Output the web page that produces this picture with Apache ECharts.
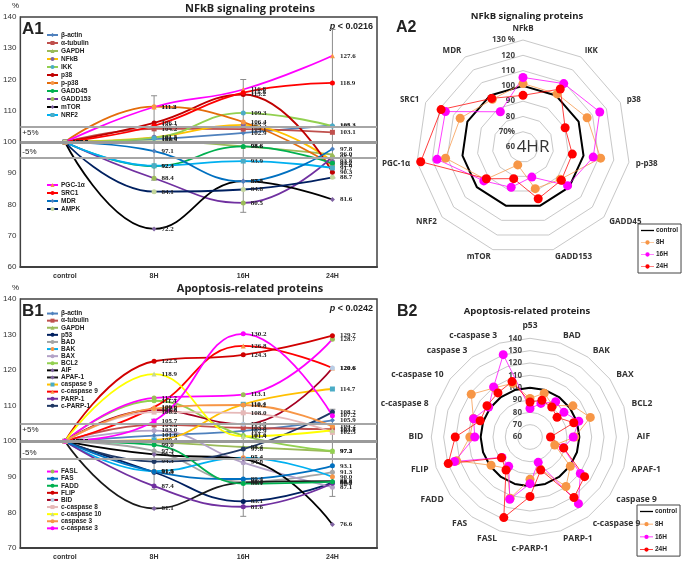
<!DOCTYPE html>
<html><head><meta charset="utf-8">
<script src="https://cdn.jsdelivr.net/npm/echarts@6/dist/echarts.min.js"></script>
<style>html,body{margin:0;padding:0;background:#fff}#c{width:685px;height:563px}</style>
</head><body><div id="c"></div>
<script>
// ---------- DATA ----------
const timepoints = ['control', '8H', '16H', '24H'];

const nfkbProteins = ['β-actin','α-tubulin','GAPDH','NFkB','IKK','p38','p-p38','GADD45','GADD153','mTOR','NRF2','PGC-1α','SRC1','MDR','AMPK'];
const nfkbControl = [100.0,100.0,100.0,100.0,100.0,100.0,100.0,100.0,100.0,100.0,100.0,100.0,100.0,100.0,100.0];
const nfkb8H  = [100.9,104.2,100.2,101.5,101.3,106.1,111.3, 92.3, 88.4, 72.2, 92.4,111.2,105.2, 97.1, 84.1];
const nfkb16H = [102.9,104.1, 98.6,105.5,109.3,115.2,106.4, 98.6, 80.5, 87.5, 93.9,116.8,115.8, 87.4, 84.8];
const nfkb24H = [105.3,103.1, 96.0, 93.8,105.1, 90.3, 92.6, 93.2, 95.3, 81.6, 91.7,127.6,118.9, 97.8, 88.7];
const nfkbErrLow  = [87.8, 77.5, 88.5];   // 8H, 16H, 24H
const nfkbErrHigh = [114.8, 120.0, 136.0];
const nfkbRadarAxes = ['NFkB','IKK','p38','p-p38','GADD45','GADD153','mTOR','NRF2','PGC-1α','SRC1','MDR'];
const nfkbLegend1 = ['β-actin','α-tubulin','GAPDH','NFkB','IKK','p38','p-p38','GADD45','GADD153','mTOR','NRF2'];
const nfkbLegend2 = ['PGC-1α','SRC1','MDR','AMPK'];

const apoProteins = ['β-actin','α-tubulin','GAPDH','p53','BAD','BAK','BAX','BCL2','AIF','APAF-1','caspase 9','c-caspase 9','PARP-1','c-PARP-1','FASL','FAS','FADD','FLIP','BID','c-caspase 8','c-caspase 10','caspase 3','c-caspase 3'];
const apoControl = [100.0,100.0,100.0,100.0,100.0,100.0,100.0,100.0,100.0,100.0,100.0,100.0,100.0,100.0,100.0,100.0,100.0,100.0,100.0,100.0,100.0,100.0,100.0];
const apo8H  = [101.6,104.6, 99.7, 91.3, 97.3, 91.6,103.0,111.4, 96.3, 81.1,100.4,109.6, 87.4, 94.3,112.2, 91.5, 99.0,122.5,108.8,108.2,118.9,109.2,105.7];
const apo16H = [102.9,103.8, 98.4, 83.1, 88.6, 95.4, 94.0,101.6, 95.0, 88.4,110.4,126.8, 81.6, 97.8,113.1, 89.4, 88.1,124.3,104.8,108.0,101.4,110.2,130.2];
const apo24H = [105.9,103.4, 97.2, 88.4, 91.3, 90.0, 87.1, 97.3, 76.6, 88.8,114.7,120.6, 88.2,108.2,128.7, 93.1, 88.6,129.7,120.6,102.5,103.1,104.2,107.2];
const apoErrLow  = [86.5, 78.9, 84.5];
const apoErrHigh = [106.2, 110.4, 109.0];
const apoRadarAxes = ['p53','BAD','BAK','BAX','BCL2','AIF','APAF-1','caspase 9','c-caspase 9','PARP-1','c-PARP-1','FASL','FAS','FADD','FLIP','BID','c-caspase 8','c-caspase 10','caspase 3','c-caspase 3'];
const apoLegend1 = ['β-actin','α-tubulin','GAPDH','p53','BAD','BAK','BAX','BCL2','AIF','APAF-1','caspase 9','c-caspase 9','PARP-1','c-PARP-1'];
const apoLegend2 = ['FASL','FAS','FADD','FLIP','BID','c-caspase 8','c-caspase 10','caspase 3','c-caspase 3'];

const radarGroups = ['control','8H','16H','24H'];

// ---------- STYLES ----------
const lineStyles = {
  'β-actin':['#4F81BD','diamond','#4F81BD'], 'α-tubulin':['#C0504D','rect','#C0504D'], 'GAPDH':['#9BBB59','triangle','#9BBB59'],
  'NFkB':['#FFC000','circle','#8064A2'], 'IKK':['#92D050','circle','#4BACC6'], 'p38':['#C00000','circle','#C00000'],
  'p-p38':['#E46C0A','circle','#F79646'], 'GADD45':['#00B050','circle','#00B050'], 'GADD153':['#7030A0','circle','#9BBB59'],
  'mTOR':['#000000','diamond','#8064A2'], 'NRF2':['#00B0F0','rect','#4BACC6'], 'PGC-1α':['#FF00FF','triangle','#F79646'],
  'SRC1':['#FF0000','circle','#FF0000'], 'MDR':['#0070C0','diamond','#4F81BD'], 'AMPK':['#002060','circle','#C3D69B'],
  'p53':['#002060','circle','#002060'], 'BAD':['#A5A5A5','circle','#A5A5A5'], 'BAK':['#00B0F0','circle','#F79646'],
  'BAX':['#B3A2C7','circle','#B3A2C7'], 'BCL2':['#92D050','circle','#92D050'], 'AIF':['#000000','diamond','#8064A2'],
  'APAF-1':['#1A1A1A','diamond','#8064A2'], 'caspase 9':['#FFC000','rect','#4BACC6'], 'c-caspase 9':['#FF0000','triangle','#F79646'],
  'PARP-1':['#7030A0','circle','#7030A0'], 'c-PARP-1':['#1F3864','circle','#1F3864'], 'FASL':['#FF00FF','circle','#9BBB59'],
  'FAS':['#0070C0','circle','#0070C0'], 'FADD':['#00B050','circle','#00B050'], 'FLIP':['#D00000','circle','#D00000'],
  'BID':['#A50021','circle','#B9CDE5'], 'c-caspase 8':['#E6B9B8','rect','#E6B9B8'], 'c-caspase 10':['#FFFF00','triangle','#C3D69B'],
  'caspase 3':['#F79646','circle','#F79646'], 'c-caspase 3':['#FF00FF','circle','#FF00FF']
};
const radarStyles = {
  'control':{color:'#000000', width:2, symbol:'none', icon:'path://M0,4h26v2.6H0z'},
  '8H':{color:'#F79646', width:1, symbol:'circle', icon:'path://M0,4.6h26v1.4H0z M13,1a4.3,4.3 0 1,1 -0.01,0z'},
  '16H':{color:'#FF00FF', width:1, symbol:'circle', icon:'path://M0,4.6h26v1.4H0z M13,1a4.3,4.3 0 1,1 -0.01,0z'},
  '24H':{color:'#FF0000', width:1, symbol:'circle', icon:'path://M0,4.6h26v1.4H0z M13,1a4.3,4.3 0 1,1 -0.01,0z'}
};

// ---------- BUILD ----------
function buildLines(proteins, ctrl, a, b, c, xi) {
  return proteins.map((p, i) => ({
    name: p, type: 'line', xAxisIndex: xi, yAxisIndex: xi, smooth: 0.45, z: 3,
    data: [ctrl[i], a[i], b[i], c[i]],
    symbol: lineStyles[p][1], symbolSize: 5, showAllSymbol: true,
    lineStyle: { color: lineStyles[p][0], width: 1.8 },
    itemStyle: { color: lineStyles[p][2] },
    label: { show: true, position: 'right', distance: 5, fontSize: 7, fontWeight: 'bold',
             fontFamily: 'Liberation Serif', color: '#222', formatter: q => Number(q.value).toFixed(1) },
    emphasis: { disabled: true }, animation: false
  }));
}
function errSeries(lo, hi, xi) {
  return {
    type: 'custom', xAxisIndex: xi, yAxisIndex: xi, silent: true, z: 2, animation: false,
    data: lo.map((v, i) => [i + 1, v, hi[i]]),
    encode: { x: 0, y: [1, 2] },
    renderItem: (params, api) => {
      const x = api.value(0);
      const p1 = api.coord([x, api.value(1)]);
      const p2 = api.coord([x, api.value(2)]);
      const st = { stroke: '#8C8C8C', lineWidth: 1 };
      const kids = [{ type: 'line', shape: { x1: p1[0], y1: p1[1], x2: p2[0], y2: p2[1] }, style: st }];
      [p1, p2].forEach(p => kids.push({ type: 'line', shape: { x1: p[0] - 3, y1: p[1], x2: p[0] + 3, y2: p[1] }, style: st }));
      return { type: 'group', children: kids };
    }
  };
}
function bandSeries(xi) {
  return {
    type: 'line', xAxisIndex: xi, yAxisIndex: xi, data: [], silent: true, z: 1, animation: false,
    markLine: { silent: true, symbol: 'none', animation: false, data: [
      { yAxis: 105, lineStyle: { color: '#A6A6A6', width: 2, type: 'solid' }, label: { show: true, position: 'insideStartBottom', formatter: '+5%', color: '#222', fontSize: 8, distance: [2, 2] } },
      { yAxis: 100, lineStyle: { color: '#9A9A9A', width: 3, type: 'solid' }, label: { show: false } },
      { yAxis: 95, lineStyle: { color: '#A6A6A6', width: 2, type: 'solid' }, label: { show: true, position: 'insideStartTop', formatter: '-5%', color: '#222', fontSize: 8, distance: [2, 2] } }
    ] }
  };
}
function clockwise(axes) { return [axes[0]].concat(axes.slice(1).reverse()); }
function buildRadar(axes, proteins, arrays, ri) {
  const ord = clockwise(axes);
  return {
    type: 'radar', radarIndex: ri, animation: false, silent: true,
    data: radarGroups.map((g, k) => ({
      name: g,
      value: ord.map(n => arrays[k][proteins.indexOf(n)]),
      symbol: radarStyles[g].symbol, symbolSize: 9,
      lineStyle: { color: radarStyles[g].color, width: radarStyles[g].width, opacity: g === 'control' ? 1 : 0.75 },
      itemStyle: { color: radarStyles[g].color }
    }))
  };
}

const axisLabelStyle = { fontSize: 8, color: '#333', fontFamily: 'Liberation Sans' };
function xAx(gi) { return { type: 'category', gridIndex: gi, data: timepoints, boundaryGap: true,
  axisLine: { lineStyle: { color: '#404040', width: 2 } }, axisTick: { show: false },
  axisLabel: { fontSize: 7, fontWeight: 'bold', color: '#333', fontFamily: 'Liberation Sans', margin: 6 } }; }
function yAx(gi, mn) { return { type: 'value', gridIndex: gi, min: mn, max: 140, interval: 10,
  axisLine: { show: true, lineStyle: { color: '#404040', width: 1 } }, axisTick: { show: false },
  splitLine: { show: false }, axisLabel: Object.assign({ margin: 4 }, axisLabelStyle) }; }

function legendCfg(names, left, top, lh) {
  return { data: names, orient: 'vertical', left: left, top: top, itemWidth: 11, itemHeight: 5, itemGap: 0,
    padding: 0, selectedMode: false,
    textStyle: { fontSize: 6.5, lineHeight: lh, height: lh, fontWeight: 'bold', color: '#222', fontFamily: 'Liberation Sans', padding: [0, 0, 0, -2] } };
}
function radarLegend(left, top, gap) {
  return { data: radarGroups.map(g => ({ name: g, icon: radarStyles[g].icon })), orient: 'vertical', left: left, top: top,
    itemWidth: 13, itemHeight: 6, itemGap: gap,
    padding: [3, 3, 3, 3], borderColor: '#444', borderWidth: 1, selectedMode: false,
    textStyle: { fontSize: 6.5, fontWeight: 'bold', color: '#222', fontFamily: 'Liberation Sans', padding: [0, 0, 0, -3] } };
}
function txt(x, y, t, opt) { return { type: 'text', x: x, y: y, silent: true, style: Object.assign({ text: t, fill: '#222', fontFamily: 'Liberation Sans' }, opt || {}) }; }

const chart = echarts.init(document.getElementById('c'), null, { renderer: 'canvas' });
const option = {
  backgroundColor: '#fff', animation: false,
  grid: [
    { left: 17, top: 17, width: 360, height: 250, show: true, borderColor: '#404040', borderWidth: 1.5, backgroundColor: 'transparent' },
    { left: 17, top: 299, width: 360, height: 249, show: true, borderColor: '#404040', borderWidth: 1.5, backgroundColor: 'transparent' }
  ],
  xAxis: [xAx(0), xAx(1)],
  yAxis: [yAx(0, 60), yAx(1, 70)],
  radar: [
    { center: [523, 147], radius: 107, startAngle: 90, shape: 'polygon', splitNumber: 7,
      indicator: clockwise(nfkbRadarAxes).map(n => ({ name: n, min: 60, max: 130 })),
      axisName: { color: '#333', fontSize: 8, fontWeight: 'bold', fontFamily: 'Open Sans' }, nameGap: 7,
      splitArea: { show: false }, axisLine: { show: false }, splitLine: { lineStyle: { color: '#C8C8C8', width: 1 } } },
    { center: [530, 437], radius: 98.7, startAngle: 90, shape: 'polygon', splitNumber: 8,
      indicator: clockwise(apoRadarAxes).map(n => ({ name: n, min: 60, max: 140 })),
      axisName: { color: '#333', fontSize: 8.5, fontWeight: 'bold', fontFamily: 'Open Sans' }, nameGap: 8,
      splitArea: { show: false }, axisLine: { show: false }, splitLine: { lineStyle: { color: '#C8C8C8', width: 1 } } }
  ],
  polar: [ { center: [523, 147], radius: 107 }, { center: [530, 437], radius: 98.7 } ],
  angleAxis: [ { polarIndex: 0, startAngle: 90, show: false, min: 0, max: 360 }, { polarIndex: 1, startAngle: 90, show: false, min: 0, max: 360 } ],
  radiusAxis: [
    { polarIndex: 0, min: 60, max: 130, interval: 10, axisLine: { show: false }, axisTick: { show: false }, splitLine: { show: false },
      axisLabel: { fontSize: 8, fontWeight: 'bold', color: '#444', fontFamily: 'Open Sans', formatter: v => v === 130 ? '130 %' : (v === 70 ? '70%' : String(v)) } },
    { polarIndex: 1, min: 60, max: 140, interval: 10, axisLine: { show: false }, axisTick: { show: false }, splitLine: { show: false },
      axisLabel: { fontSize: 8, fontWeight: 'bold', color: '#444', fontFamily: 'Open Sans' } }
  ],
  legend: [
    legendCfg(nfkbLegend1, 46, 31, 8), legendCfg(nfkbLegend2, 46, 181, 8),
    legendCfg(apoLegend1, 46, 310, 7.1), legendCfg(apoLegend2, 46, 468, 7.1),
    radarLegend(638, 224, 5), radarLegend(637, 505, 5.7)
  ],
  series: [].concat(
    [bandSeries(0), errSeries(nfkbErrLow, nfkbErrHigh, 0)],
    buildLines(nfkbProteins, nfkbControl, nfkb8H, nfkb16H, nfkb24H, 0),
    [bandSeries(1), errSeries(apoErrLow, apoErrHigh, 1)],
    buildLines(apoProteins, apoControl, apo8H, apo16H, apo24H, 1),
    [buildRadar(nfkbRadarAxes, nfkbProteins, [nfkbControl, nfkb8H, nfkb16H, nfkb24H], 0),
     buildRadar(apoRadarAxes, apoProteins, [apoControl, apo8H, apo16H, apo24H], 1)]
  ),
  graphic: [
    txt(250, 3, 'NFkB signaling proteins', { fontSize: 11, fontWeight: 'bold', textAlign: 'center', fontFamily: 'Open Sans' }),
    txt(250, 283, 'Apoptosis-related proteins', { fontSize: 11, fontWeight: 'bold', textAlign: 'center', fontFamily: 'Open Sans' }),
    txt(12, 2, '%', { fontSize: 8 }), txt(12, 284, '%', { fontSize: 8 }),
    txt(22, 21, 'A1', { fontSize: 17, fontWeight: 'bold' }),
    txt(22, 303, 'B1', { fontSize: 17, fontWeight: 'bold' }),
    txt(373, 22, '{i|p} < 0.0216', { textAlign: 'right', fontSize: 9, fontWeight: 'bold', rich: { i: { fontStyle: 'italic', fontWeight: 'bold', fontSize: 9, fontFamily: 'Liberation Sans' } } }),
    txt(373, 304, '{i|p} < 0.0242', { textAlign: 'right', fontSize: 9, fontWeight: 'bold', rich: { i: { fontStyle: 'italic', fontWeight: 'bold', fontSize: 9, fontFamily: 'Liberation Sans' } } }),
    txt(396, 20, 'A2', { fontSize: 16, fontWeight: 'bold' }),
    txt(527, 11, 'NFkB signaling proteins', { fontSize: 9.5, fontWeight: 'bold', textAlign: 'center', fontFamily: 'Open Sans' }),
    txt(533, 147, '4HR', { fontSize: 17, textAlign: 'center', textVerticalAlign: 'middle', fontFamily: 'Open Sans', fill: '#333' }),
    txt(397, 304, 'B2', { fontSize: 16, fontWeight: 'bold' }),
    txt(527, 306, 'Apoptosis-related proteins', { fontSize: 9.5, fontWeight: 'bold', textAlign: 'center', fontFamily: 'Open Sans' })
  ]
};
chart.setOption(option);
</script></body></html>
